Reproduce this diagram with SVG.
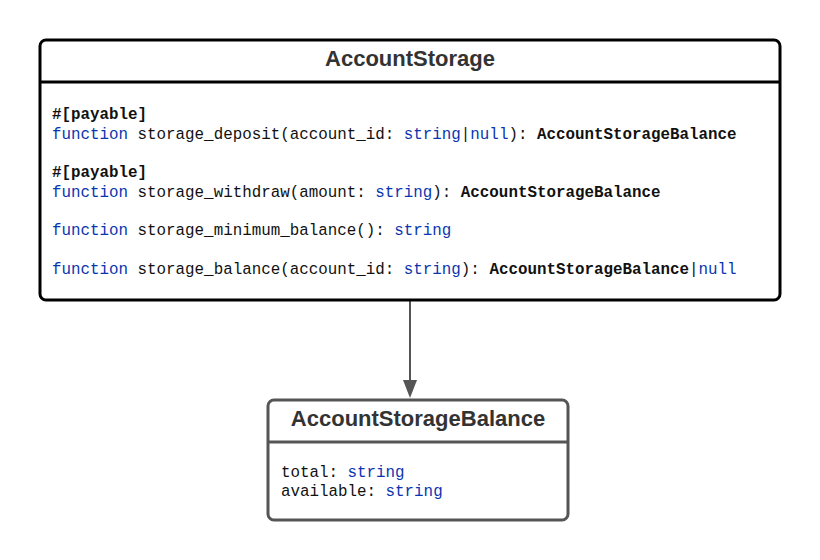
<svg xmlns="http://www.w3.org/2000/svg" width="820" height="560" viewBox="0 0 820 560">
<style>
.title{font-family:"Liberation Sans",Arial,sans-serif;font-weight:bold;font-size:22px;fill:#333;text-anchor:middle}
.code{font-family:"Liberation Mono","Courier New",monospace;fill:#111;font-size:15.85px}
.kw{fill:#0a35b0}
.b{font-weight:bold}
</style>
<rect width="820" height="560" fill="#fff"/>
<g id="connectors">
<line x1="410" y1="300" x2="410" y2="380" stroke="#555" stroke-width="2"/>
<path d="M403,380 L417,380 L410,398 Z" fill="#555"/>
</g>
<g id="AccountStorage">
<rect x="40" y="40" width="740" height="260" rx="6" fill="#fff" stroke="#000" stroke-width="3"/>
<line x1="40" y1="82" x2="780" y2="82" stroke="#000" stroke-width="3"/>
<text class="title" x="410" y="66">AccountStorage</text>
<text class="code b" x="52" y="119">#[payable]</text>
<text class="code" x="52" y="139" xml:space="preserve"><tspan class="kw">function</tspan> storage_deposit(account_id: <tspan class="kw">string</tspan>|<tspan class="kw">null</tspan>): <tspan class="b">AccountStorageBalance</tspan></text>
<text class="code b" x="52" y="177">#[payable]</text>
<text class="code" x="52" y="197" xml:space="preserve"><tspan class="kw">function</tspan> storage_withdraw(amount: <tspan class="kw">string</tspan>): <tspan class="b">AccountStorageBalance</tspan></text>
<text class="code" x="52" y="235" xml:space="preserve"><tspan class="kw">function</tspan> storage_minimum_balance(): <tspan class="kw">string</tspan></text>
<text class="code" x="52" y="274" xml:space="preserve"><tspan class="kw">function</tspan> storage_balance(account_id: <tspan class="kw">string</tspan>): <tspan class="b">AccountStorageBalance</tspan>|<tspan class="kw">null</tspan></text>
</g>
<g id="AccountStorageBalance">
<rect x="268" y="400" width="300" height="120" rx="6" fill="#fff" stroke="#555" stroke-width="3"/>
<line x1="268" y1="442" x2="568" y2="442" stroke="#555" stroke-width="3"/>
<text class="title" x="418" y="426">AccountStorageBalance</text>
<text class="code" x="281" y="477" xml:space="preserve">total: <tspan class="kw">string</tspan></text>
<text class="code" x="281" y="496" xml:space="preserve">available: <tspan class="kw">string</tspan></text>
</g>
</svg>
